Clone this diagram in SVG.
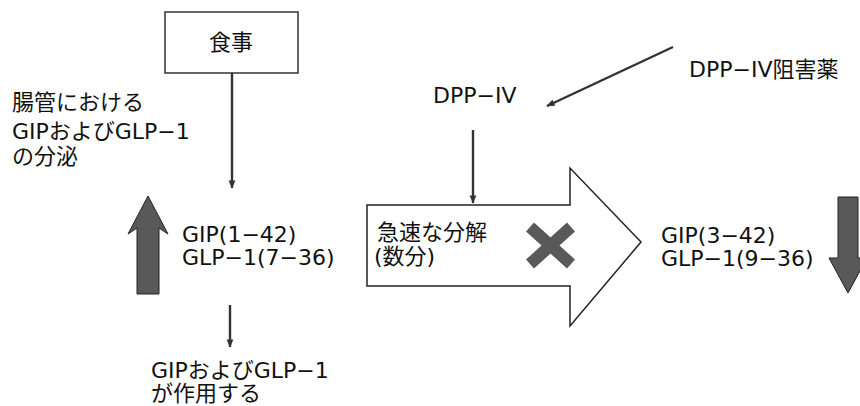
<svg xmlns="http://www.w3.org/2000/svg" width="860" height="406" viewBox="0 0 860 406">
<style>
text{font-family:"DejaVu Sans","Noto Sans CJK JP",sans-serif;fill:#111;font-size:22px}
.ln{stroke:#333;stroke-width:2.4;fill:none}
.big{fill:#595959;stroke:#222;stroke-width:1}
</style>
<defs>
<marker id="ah" viewBox="0 0 10 10" refX="9" refY="5" markerWidth="4" markerHeight="3.5" orient="auto" markerUnits="strokeWidth">
<path d="M0,1 L10,5 L0,9 Z" fill="#333"/>
</marker>
</defs>
<rect width="860" height="406" fill="#fff"/>
<g id="meal">
<rect x="165" y="12" width="133" height="61" fill="#fff" stroke="#333" stroke-width="1.5"/>
<text x="231" y="50" text-anchor="middle">食事</text>
</g>
<g id="secretion">
<text x="12" y="110">腸管における</text>
<text x="12" y="139">GIPおよびGLP−1</text>
<text x="12" y="164">の分泌</text>
</g>
<g id="up-arrow">
<polygon class="big" points="148,196 168,234 159,228 159,294 137,294 137,228 128,234"/>
</g>
<g id="intact">
<text x="182" y="242">GIP(1−42)</text>
<text x="182" y="265">GLP−1(7−36)</text>
</g>
<g id="action">
<text x="151" y="378">GIPおよびGLP−1</text>
<text x="151" y="401">が作用する</text>
</g>
<g id="dpp4">
<text x="433" y="103">DPP−IV</text>
</g>
<g id="inhibitor">
<text x="689" y="77">DPP−IV阻害薬</text>
</g>
<g id="degradation">
<polygon points="367,205 570,205 570,168 641,242 570,326 570,286 367,286" fill="#fff" stroke="#222" stroke-width="1.5"/>
<text x="377" y="240">急速な分解</text>
<text x="374" y="264">(数分)</text>
<g stroke="#595959" stroke-width="12">
<line x1="530" y1="227" x2="571" y2="264"/>
<line x1="571" y1="227" x2="530" y2="264"/>
</g>
</g>
<g id="cleaved">
<text x="661" y="243">GIP(3−42)</text>
<text x="661" y="266">GLP−1(9−36)</text>
</g>
<g id="down-arrow">
<polygon class="big" points="838,197 858,197 858,258 867,258 848,293 829,258 838,258"/>
</g>
<g id="connectors">
<line class="ln" x1="232" y1="73" x2="232" y2="188" marker-end="url(#ah)"/>
<line class="ln" x1="230" y1="305" x2="230" y2="347" marker-end="url(#ah)"/>
<line class="ln" x1="473" y1="130" x2="473" y2="203" marker-end="url(#ah)"/>
<line class="ln" x1="673" y1="47" x2="547" y2="106" marker-end="url(#ah)"/>
</g>
</svg>
